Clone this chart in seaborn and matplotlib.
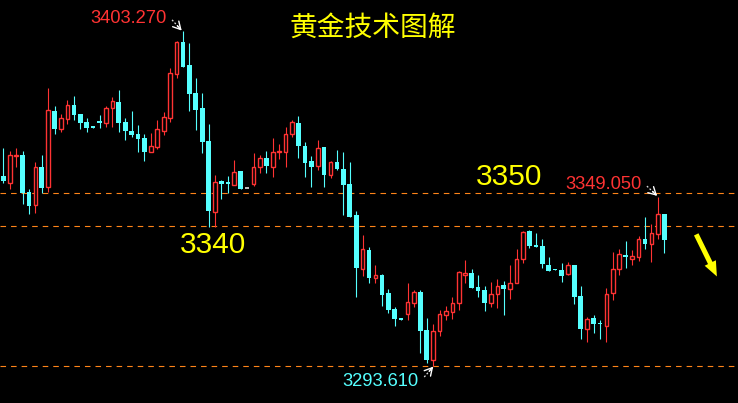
import matplotlib
matplotlib.use("Agg")
import matplotlib.pyplot as plt
import numpy as np
import pandas as pd
import seaborn as sns

# gold candles (price units)
opens = [3355.8, 3353.5, 3362.4, 3362.7, 3350.6, 3346.3, 3358.7, 3352.2, 3377.1, 3371.2,
         3374.5, 3379.0, 3376.1, 3373.5, 3372.2, 3373.8, 3373.1, 3378.1, 3380.0, 3373.5,
         3370.5, 3369.5, 3368.2, 3363.7, 3365.3, 3370.5, 3374.8, 3389.2, 3399.7, 3392.1,
         3383.0, 3378.1, 3367.3, 3344.0, 3354.2, 3353.8, 3352.9, 3357.4, 3351.9, 3353.2,
         3358.7, 3361.7, 3358.7, 3363.5, 3363.7, 3369.5, 3373.1, 3365.6, 3360.7, 3359.1,
         3365.3, 3356.1, 3360.4, 3358.1, 3353.2, 3343.0, 3325.4, 3331.6, 3322.4, 3323.4,
         3317.5, 3312.3, 3309.3, 3310.6, 3314.2, 3317.8, 3305.4, 3295.6, 3305.1, 3310.3,
         3311.3, 3314.2, 3323.4, 3324.0, 3319.5, 3318.5, 3314.2, 3317.2, 3320.1, 3318.8,
         3320.8, 3328.6, 3337.8, 3333.2, 3332.9, 3326.7, 3325.2, 3325.0, 3323.7, 3326.7,
         3316.5, 3305.7, 3309.3, 3307.5, 3306.7, 3317.5, 3325.4, 3329.9, 3328.6, 3329.3,
         3335.2, 3333.5, 3336.8, 3343.4]
highs = [3365.0, 3364.0, 3365.0, 3364.0, 3351.5, 3360.4, 3362.7, 3384.6, 3378.7, 3376.1,
         3380.7, 3382.0, 3376.1, 3374.8, 3372.2, 3375.8, 3378.7, 3381.7, 3383.9, 3374.8,
         3377.1, 3372.5, 3369.5, 3369.9, 3374.1, 3376.7, 3391.1, 3400.0, 3403.27, 3399.3,
         3387.9, 3383.0, 3372.8, 3356.1, 3354.5, 3355.8, 3361.0, 3357.4, 3351.9, 3363.3,
         3362.7, 3364.0, 3368.2, 3366.3, 3371.8, 3374.1, 3375.4, 3366.9, 3362.3, 3367.6,
         3365.3, 3360.7, 3364.3, 3363.7, 3360.4, 3344.3, 3336.5, 3332.6, 3326.7, 3323.7,
         3318.8, 3312.9, 3309.3, 3320.8, 3318.5, 3318.5, 3309.3, 3307.4, 3311.9, 3313.3,
         3316.2, 3324.7, 3328.3, 3325.4, 3323.4, 3319.8, 3321.1, 3322.1, 3321.4, 3326.7,
         3331.9, 3337.8, 3338.1, 3337.1, 3335.2, 3329.3, 3325.2, 3327.3, 3327.6, 3326.7,
         3319.8, 3309.6, 3310.3, 3308.7, 3319.1, 3330.9, 3331.9, 3334.5, 3331.6, 3336.2,
         3342.4, 3340.1, 3349.05, 3343.4]
lows = [3353.5, 3351.5, 3358.7, 3346.6, 3343.4, 3343.7, 3350.2, 3350.6, 3369.5, 3370.2,
        3372.8, 3374.1, 3371.2, 3370.2, 3371.5, 3371.5, 3371.8, 3371.8, 3370.2, 3367.6,
        3368.6, 3363.7, 3360.7, 3363.7, 3364.6, 3369.2, 3373.5, 3387.9, 3391.5, 3377.1,
        3370.9, 3363.3, 3339.1, 3339.1, 3348.3, 3350.2, 3352.9, 3351.5, 3351.9, 3352.5,
        3356.8, 3356.8, 3355.5, 3361.4, 3358.7, 3368.6, 3361.7, 3355.5, 3352.2, 3357.8,
        3352.2, 3355.1, 3357.8, 3343.0, 3342.4, 3316.2, 3323.1, 3320.8, 3320.8, 3313.3,
        3311.0, 3306.7, 3308.7, 3308.7, 3312.9, 3297.9, 3294.6, 3293.61, 3303.4, 3308.7,
        3309.0, 3311.9, 3320.8, 3319.1, 3316.2, 3311.6, 3312.9, 3312.6, 3310.3, 3315.5,
        3320.8, 3327.3, 3332.2, 3332.6, 3325.7, 3324.7, 3324.9, 3321.1, 3323.4, 3313.9,
        3302.4, 3301.5, 3304.4, 3302.4, 3301.5, 3315.2, 3323.4, 3325.7, 3326.7, 3328.0,
        3331.9, 3327.6, 3335.2, 3330.6]
closes = [3354.2, 3362.7, 3362.6, 3350.2, 3346.0, 3358.7, 3351.9, 3377.4, 3371.2, 3374.8,
          3379.0, 3375.8, 3373.1, 3371.5, 3371.5, 3373.1, 3378.1, 3380.3, 3373.1, 3370.5,
          3369.2, 3367.9, 3363.7, 3365.6, 3371.2, 3375.1, 3389.5, 3399.7, 3391.5, 3382.6,
          3377.4, 3366.9, 3344.3, 3353.8, 3353.2, 3353.2, 3357.1, 3351.5, 3351.9, 3358.7,
          3361.7, 3359.1, 3363.7, 3363.8, 3369.5, 3373.5, 3365.6, 3360.1, 3358.7, 3365.0,
          3356.1, 3360.4, 3358.1, 3352.9, 3342.4, 3325.7, 3331.9, 3322.4, 3323.4, 3316.9,
          3311.9, 3309.0, 3308.7, 3314.6, 3317.8, 3305.1, 3295.6, 3305.1, 3310.6, 3311.6,
          3314.2, 3324.4, 3324.0, 3319.1, 3318.2, 3314.2, 3317.2, 3319.8, 3318.8, 3320.8,
          3328.6, 3337.5, 3332.9, 3332.6, 3327.0, 3324.7, 3324.9, 3323.1, 3326.7, 3316.2,
          3305.7, 3309.0, 3307.4, 3307.3, 3317.2, 3325.4, 3330.3, 3329.3, 3329.6, 3335.2,
          3333.5, 3337.1, 3343.4, 3334.9]

levels = [3350.2, 3339.4, 3293.6]
title = "黄金技术图解"

RED = "#ff3333"
CYAN = "#55ffff"
ORANGE = "#ff8419"
YELLOW = "#ffff00"

df = pd.DataFrame({"open": opens, "high": highs, "low": lows, "close": closes})
df["x"] = np.arange(len(df))
df["kind"] = np.where(df["close"] > df["open"], "up",
                      np.where(df["close"] < df["open"], "down", "flat"))
palette = {"up": RED, "down": CYAN, "flat": "#c0c0c0"}

sns.set_theme(style="dark", rc={"axes.facecolor": "black", "figure.facecolor": "black"})
plt.rcParams["font.family"] = ["Liberation Sans", "DejaVu Sans"]

fig = plt.figure(figsize=(7.38, 4.03), dpi=100)
ax = fig.add_axes([0, 0, 1, 1])
ax.set_facecolor("black")

for lv in levels:
    ax.axhline(lv, color=ORANGE, lw=0.8, ls=(0, (5, 4.5)), zorder=1)

for kind, g in df.groupby("kind"):
    col = palette[kind]
    ax.vlines(g["x"], g["low"], g["high"], color=col, lw=0.8, zorder=2)
    lo = g[["open", "close"]].min(axis=1)
    h = (g["close"] - g["open"]).abs().clip(lower=0.35)
    if kind == "up":
        ax.bar(g["x"], h, bottom=lo, width=0.58, facecolor="black",
               edgecolor=col, linewidth=1.0, zorder=3)
    elif kind == "down":
        ax.bar(g["x"], h, bottom=lo, width=0.73, color=col, linewidth=0, zorder=3)
    else:
        ax.hlines(g["close"], g["x"] - 0.36, g["x"] + 0.36, color=col, lw=1.4, zorder=3)

ax.set_xlim(-0.514, 114.5)
ax.set_ylim(3281.5, 3413.4)
ax.axis("off")

# extreme labels
ax.text(25.5, 3407.3, "3403.270", color=RED, fontsize=13.2, ha="right", va="center")
ax.text(99.4, 3353.0, "3349.050", color=RED, fontsize=13.2, ha="right", va="center")
ax.text(52.9, 3288.7, "3293.610", color=CYAN, fontsize=13.2, ha="left", va="center")


def pointer(start, end):
    # dotted shaft with a solid head, like the terminal's label arrows
    ax.plot([start[0], end[0]], [start[1], end[1]], color="#dddddd", lw=0.9, ls=(0, (1.5, 1.5)))
    mid = (start[0] + 0.55 * (end[0] - start[0]), start[1] + 0.55 * (end[1] - start[1]))
    ax.annotate("", xy=end, xytext=mid,
                arrowprops=dict(arrowstyle="->,head_length=0.45,head_width=0.25",
                                color="white", lw=1.0, shrinkA=0, shrinkB=0))


pointer((26.3, 3406.9), (27.8, 3403.4))
pointer((100.3, 3352.5), (101.9, 3349.3))
pointer((65.6, 3290.0), (67.0, 3293.4))

# support / resistance labels
ax.text(73.7, 3355.6, "3350", color=YELLOW, fontsize=21.5, ha="left", va="center")
ax.text(27.5, 3333.2, "3340", color=YELLOW, fontsize=21.5, ha="left", va="center")

ax.annotate("", xy=(111.4, 3322.1), xytext=(107.8, 3337.5),
            arrowprops=dict(arrowstyle="simple,head_length=0.9,head_width=0.75,tail_width=0.3",
                            color=YELLOW, lw=0))

fig.text(0.505, 0.93, title, color=YELLOW, fontsize=20, ha="center", va="center",
         family=["Noto Sans CJK SC", "DejaVu Sans"])

fig.savefig("out.png", dpi=100, facecolor="black")
